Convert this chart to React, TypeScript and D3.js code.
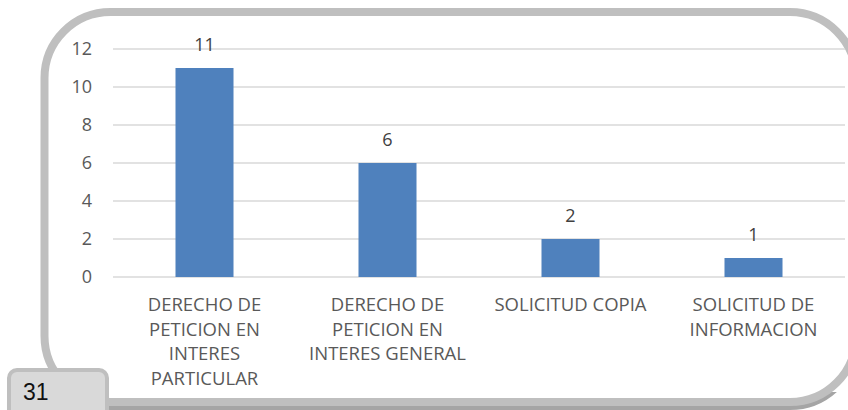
import React from "react";
import * as d3 from "d3";

const categories = [
  "DERECHO DE PETICION EN INTERES PARTICULAR",
  "DERECHO DE PETICION EN INTERES GENERAL",
  "SOLICITUD COPIA",
  "SOLICITUD DE INFORMACION",
];
const categoryLines = [
  ["DERECHO DE", "PETICION EN", "INTERES", "PARTICULAR"],
  ["DERECHO DE", "PETICION EN", "INTERES GENERAL"],
  ["SOLICITUD COPIA"],
  ["SOLICITUD DE", "INFORMACION"],
];
const values = [11, 6, 2, 1];
const yTicks = [0, 2, 4, 6, 8, 10, 12];
const pageLabel = "31";

const W = 848;
const H = 410;
const plot = { left: 113, right: 845, top: 49, bottom: 277 };
const FONT = "'Open Sans', 'Noto Sans', sans-serif";

export default function App() {
  const x = d3
    .scaleBand<string>()
    .domain(categories)
    .range([plot.left, plot.right])
    .paddingInner(0.683)
    .paddingOuter(0.3415);
  const y = d3.scaleLinear().domain([0, 12]).range([plot.bottom, plot.top]);

  const fx = 44.5, fy = 12, fw = 856 - 44.5, fh = 390, r = 66;

  return (
    <svg
      width={W}
      height={H}
      style={{ position: "absolute", left: 0, top: 0, background: "#fff" }}
    >
      <defs>
        <clipPath id="bottomClip">
          <rect x={0} y={392} width={W} height={30} />
        </clipPath>
      </defs>
      {/* shadow */}
      <rect
        x={fx}
        y={fy + 4}
        width={fw}
        height={fh}
        rx={r}
        ry={r}
        fill="none"
        stroke="#a5a5a5"
        strokeWidth={8}
        clipPath="url(#bottomClip)"
      />
      <rect
        x={fx}
        y={fy}
        width={fw}
        height={fh}
        rx={r}
        ry={r}
        fill="#fff"
        stroke="#bfbfbf"
        strokeWidth={8}
      />
      {/* gridlines */}
      {yTicks.map((t) => (
        <line
          key={t}
          x1={plot.left}
          x2={plot.right}
          y1={y(t)}
          y2={y(t)}
          stroke="#d9d9d9"
          strokeWidth={1.3}
        />
      ))}
      {/* y tick labels */}
      {yTicks.map((t) => (
        <text
          key={"l" + t}
          x={92}
          y={y(t)}
          dy="0.36em"
          textAnchor="end"
          fontFamily={FONT}
          fontSize={18}
          fill="#595959"
        >
          {t}
        </text>
      ))}
      {/* bars */}
      {categories.map((c, i) => (
        <rect
          key={c}
          x={x(c)}
          y={y(values[i])}
          width={x.bandwidth()}
          height={y(0) - y(values[i])}
          fill="#4f81bd"
        />
      ))}
      {/* data labels */}
      {categories.map((c, i) => (
        <text
          key={"d" + c}
          x={(x(c) as number) + x.bandwidth() / 2}
          y={y(values[i]) - 17}
          textAnchor="middle"
          fontFamily={FONT}
          fontSize={18}
          fill="#404040"
        >
          {values[i]}
        </text>
      ))}
      {/* category labels */}
      {categories.map((c, i) => (
        <text
          key={"c" + c}
          textAnchor="middle"
          fontFamily={FONT}
          fontSize={18.5}
          fill="#595959"
        >
          {categoryLines[i].map((ln, j) => (
            <tspan
              key={j}
              x={(x(c) as number) + x.bandwidth() / 2}
              y={311 + j * 24.6}
            >
              {ln}
            </tspan>
          ))}
        </text>
      ))}
      {/* page box */}
      <rect
        x={9}
        y={370}
        width={98}
        height={60}
        rx={8}
        ry={8}
        fill="#d9d9d9"
        stroke="#bfbfbf"
        strokeWidth={4}
      />
      <text
        x={23}
        y={400}
        fontFamily="'Liberation Sans', Arial, sans-serif"
        fontSize={23}
        fill="#111"
      >
        {pageLabel}
      </text>
    </svg>
  );
}
